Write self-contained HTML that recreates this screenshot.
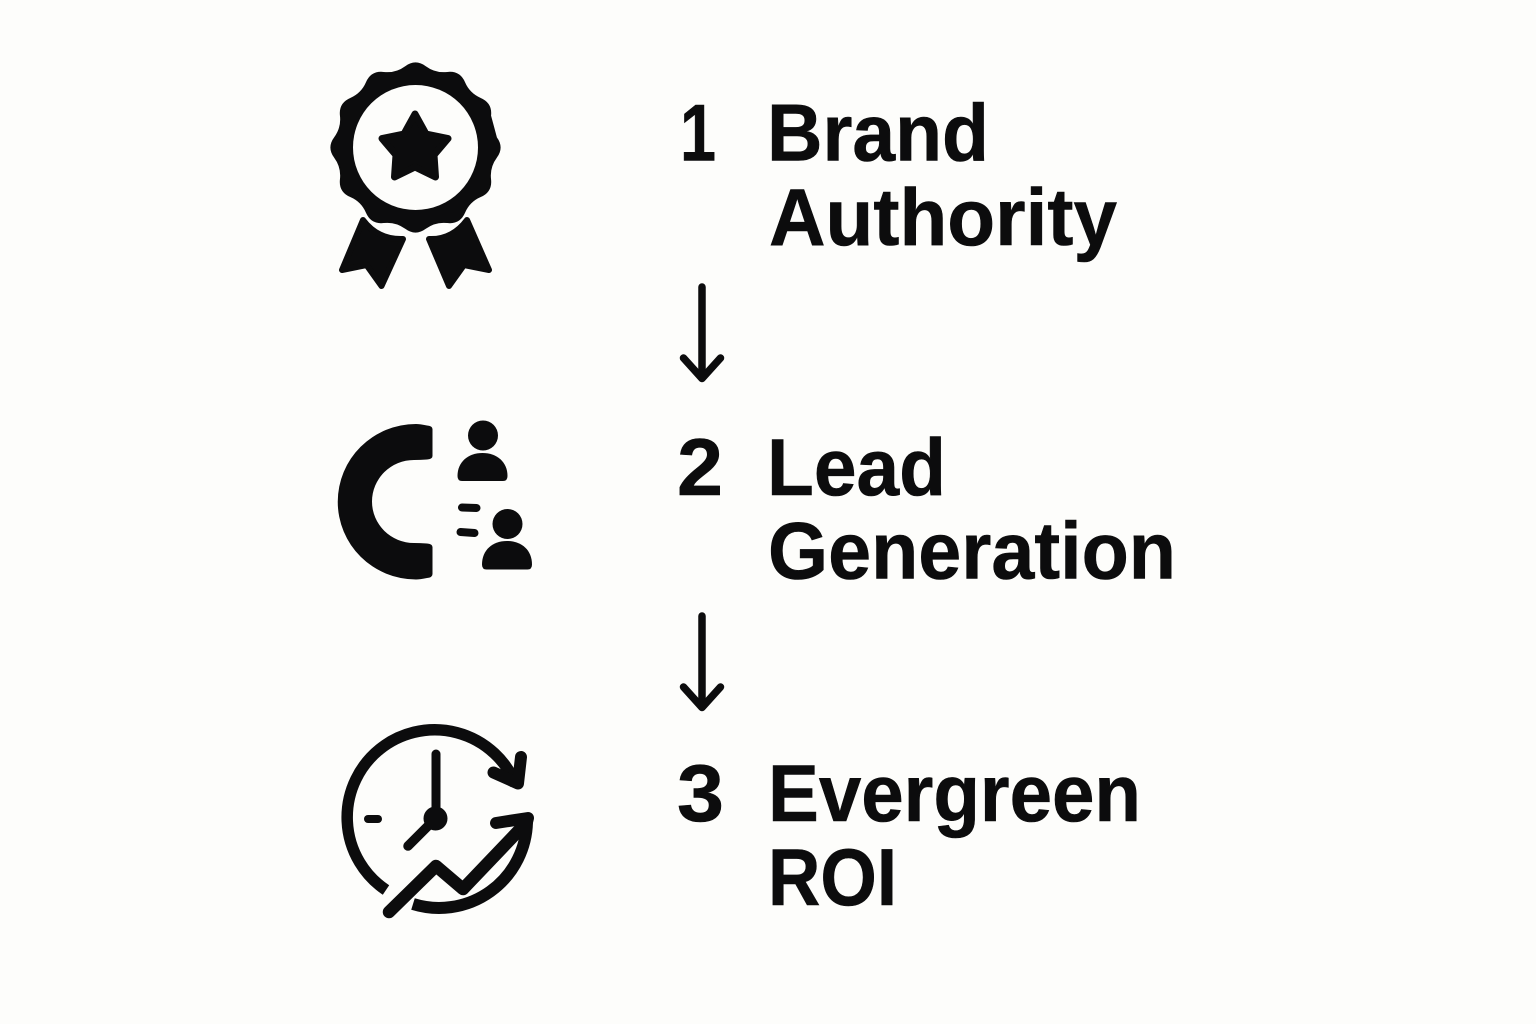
<!DOCTYPE html>
<html><head><meta charset="utf-8"><style>
html,body{margin:0;padding:0;background:#fdfdfb;width:1536px;height:1024px;overflow:hidden}
svg{display:block}
text{font-family:"Liberation Sans",Arial,sans-serif;font-weight:700;font-size:81px;fill:#0c0c0d;stroke:#0c0c0d;stroke-width:.6}
</style></head><body>
<svg width="1536" height="1024" viewBox="0 0 1536 1024" xmlns="http://www.w3.org/2000/svg">
<rect width="1536" height="1024" fill="#fdfdfb"/>
<!-- badge -->
<g transform="translate(415.5,147.5)">
<path fill="#0c0c0d" stroke="#0c0c0d" stroke-width="1.5" stroke-linejoin="round" d="M80.7 -9.85Q88 0 80.7 9.85T74.8 31.85T64.95 48.85T48.85 64.95T31.85 74.8T9.85 80.7T-9.85 80.7T-31.85 74.8T-48.85 64.95T-64.95 48.85T-74.8 31.85T-80.7 9.85T-80.7 -9.85T-74.8 -31.85T-64.95 -48.85T-48.85 -64.95T-31.85 -74.8T-9.85 -80.7T9.85 -80.7T31.85 -74.8T48.85 -64.95T64.95 -48.85T74.8 -31.85Z"/>
<circle r="62.5" fill="#fdfdfb"/>
</g>
<path fill="#0c0c0d" stroke="#0c0c0d" stroke-width="7" stroke-linejoin="round" d="M415 114L426 134L448 138.5L434 155L435.5 177L415 167L394.5 177L396 155L382 138.5L404 134Z"/>
<path fill="#0c0c0d" stroke="#0c0c0d" stroke-width="6" stroke-linejoin="round" d="M363 220Q378 240 403 239L381.5 286L366.5 265L342 270Z"/>
<path fill="#0c0c0d" stroke="#0c0c0d" stroke-width="6" stroke-linejoin="round" d="M467 220Q452 240 429 239L449 286L464 265L489 270Z"/>
<!-- magnet -->
<path fill="#0c0c0d" d="M432.5 429Q432.5 426 427 425.5Q420 424 416 424A78 77.5 0 0 0 416 579.5Q420 579.5 427 578Q432.5 577.5 432.5 574L432.5 547Q432.5 544 427 543.5Q420 543 414 543A42 41.5 0 0 1 414 460Q420 460 427 459.5Q432.5 459 432.5 456Z"/>
<circle cx="483" cy="435.5" r="15" fill="#0c0c0d"/>
<path fill="#0c0c0d" d="M457.5 476C457.5 462 468 453 482.5 453C497 453 507.5 462 507.5 476Q507.5 481 503 481L462 481Q457.5 481 457.5 476Z"/>
<circle cx="507.5" cy="524" r="15" fill="#0c0c0d"/>
<path fill="#0c0c0d" d="M482 564.5C482 550 492.5 541 507 541C521.5 541 532 550 532 564.5Q532 569.5 527.5 569.5L486.5 569.5Q482 569.5 482 564.5Z"/>
<g stroke="#0c0c0d" stroke-width="8" stroke-linecap="round" fill="none">
<path d="M462 507.5L476.5 508"/>
<path d="M460.5 532L474.5 533"/>
</g>
<!-- clock -->
<g fill="none" stroke="#0c0c0d" stroke-linecap="round" stroke-linejoin="round">
<path stroke-width="11.5" stroke-linecap="butt" d="M386 890A87.5 87.5 0 1 1 516 785"/>
<path stroke-width="12" d="M493.5 772.5L518 783.5L521 757"/>
<path stroke-width="12" stroke-linecap="butt" d="M413 904A88 88 0 0 0 527 822"/>
<path stroke-width="12.5" d="M389 912L436 866L463 889L526 823"/>
<path stroke-width="12" d="M496 823L528 818L524 834"/>
<path stroke-width="9" d="M436 754V815"/>
<path stroke-width="9.5" d="M408 846L434 820"/>
<path stroke-width="8" d="M368 819H378"/>
</g>
<circle cx="435.5" cy="818.5" r="12" fill="#0c0c0d"/>
<!-- arrows -->
<g fill="none" stroke="#0c0c0d" stroke-width="7.5" stroke-linecap="round" stroke-linejoin="round">
<path d="M702 287V378"/>
<path d="M683.5 358L702 378.5L720.5 358"/>
<path d="M702 616V707"/>
<path d="M683.5 687L702 707.5L720.5 687"/>
</g>
<!-- text -->
<text x="680" y="160.7" textLength="36" lengthAdjust="spacingAndGlyphs">1</text>
<text x="767" y="160.7" textLength="222" lengthAdjust="spacingAndGlyphs">Brand</text>
<text x="769" y="245" textLength="348" lengthAdjust="spacingAndGlyphs">Authority</text>
<text x="677" y="495" textLength="46" lengthAdjust="spacingAndGlyphs">2</text>
<text x="767" y="495" textLength="179" lengthAdjust="spacingAndGlyphs">Lead</text>
<text x="768" y="578.3" textLength="408" lengthAdjust="spacingAndGlyphs">Generation</text>
<text x="677" y="821" textLength="47" lengthAdjust="spacingAndGlyphs">3</text>
<text x="768" y="821" textLength="373" lengthAdjust="spacingAndGlyphs">Evergreen</text>
<text x="768" y="905" textLength="129" lengthAdjust="spacingAndGlyphs">ROI</text>
</svg>
</body></html>
